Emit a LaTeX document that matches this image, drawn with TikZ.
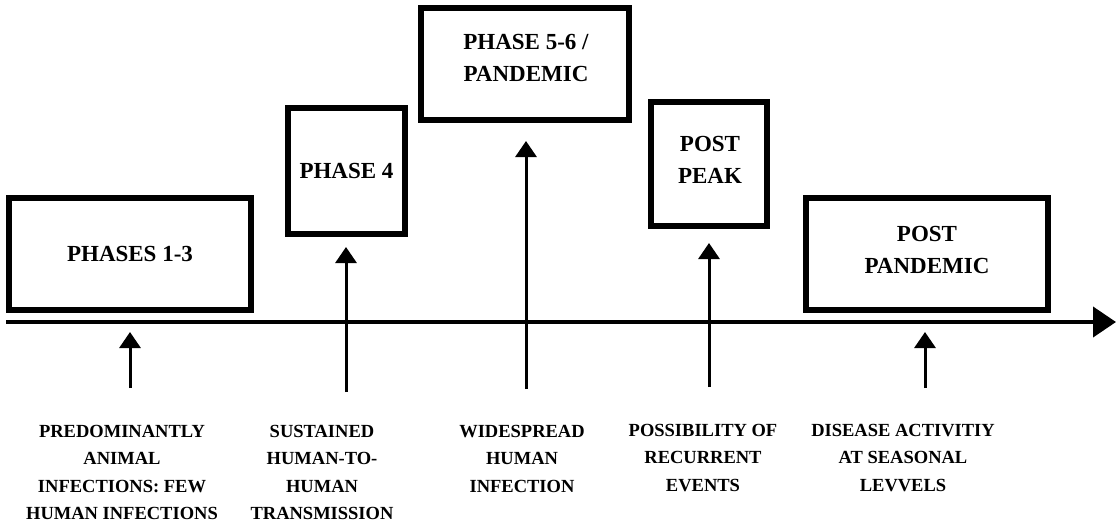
\documentclass[tikz,border=0pt]{standalone}
\usepackage{fontspec}
\setmainfont{Liberation Serif}
\usetikzlibrary{arrows.meta}
\tikzset{
  phasebox/.style={draw=black, line width=6pt, inner sep=0pt, align=center,
    font=\bfseries\fontsize{23}{31.5}\selectfont},
  eventlabel/.style={anchor=north, inner sep=0pt, align=center,
    font=\bfseries\fontsize{18.5}{27.5}\selectfont},
  uparrow/.style={line width=3pt, -{Triangle[width=21pt,length=16pt]}},
  timeline/.style={line width=4pt, -{Triangle[width=30pt,length=23pt]}}
}
\begin{document}
\begin{tikzpicture}[x=1pt,y=-1pt]
\useasboundingbox (0,0) rectangle (1116,525);
% phase boxes
\node[phasebox, minimum width=242pt, minimum height=112pt] (p13) at (130,254) {PHASES 1-3};
\node[phasebox, minimum width=117pt, minimum height=126pt] (p4) at (346.5,171) {PHASE 4};
\node[phasebox, minimum width=208pt, minimum height=112pt] (p56) at (525,64) {};
\node at (526,58) [align=center, inner sep=0pt, font=\bfseries\fontsize{23}{31.5}\selectfont] (p56t) {PHASE 5-6 /\\PANDEMIC};
\node[phasebox, minimum width=116pt, minimum height=124pt] (pp) at (709,164) {};
\node at (710,160) [align=center, inner sep=0pt, font=\bfseries\fontsize{23}{31.5}\selectfont] (ppt) {POST\\PEAK};
\node[phasebox, minimum width=242pt, minimum height=112pt] (ppan) at (927,254) {};
\node at (927,250) [align=center, inner sep=0pt, font=\bfseries\fontsize{23}{31.5}\selectfont] (ppant) {POST\\PANDEMIC};
% timeline
\coordinate (tl0) at (6,322);
\coordinate (tl1) at (1116,322);
\draw[timeline] (tl0) -- (tl1);
% arrow start and end points
\coordinate (a1s) at (130,388); \coordinate (a1e) at (130,332);
\coordinate (a2s) at (346,392); \coordinate (a2e) at (346,247);
\coordinate (a3s) at (526,389); \coordinate (a3e) at (526,141);
\coordinate (a4s) at (709,387); \coordinate (a4e) at (709,243);
\coordinate (a5s) at (925,388); \coordinate (a5e) at (925,332);
\draw[uparrow] (a1s) -- (a1e);
\draw[uparrow] (a2s) -- (a2e);
\draw[uparrow] (a3s) -- (a3e);
\draw[uparrow] (a4s) -- (a4e);
\draw[uparrow] (a5s) -- (a5e);
% event labels
\node[eventlabel] (l1) at (122,425) {PREDOMINANTLY\\ANIMAL\\INFECTIONS: FEW\\HUMAN INFECTIONS};
\node[eventlabel] (l2) at (322,425) {SUSTAINED\\HUMAN-TO-\\HUMAN\\TRANSMISSION};
\node[eventlabel] (l3) at (522,425) {WIDESPREAD\\HUMAN\\INFECTION};
\node[eventlabel] (l4) at (703,424) {POSSIBILITY OF\\RECURRENT\\EVENTS};
\node[eventlabel] (l5) at (903,424) {DISEASE ACTIVITIY\\AT SEASONAL\\LEVVELS};
\end{tikzpicture}
\end{document}
